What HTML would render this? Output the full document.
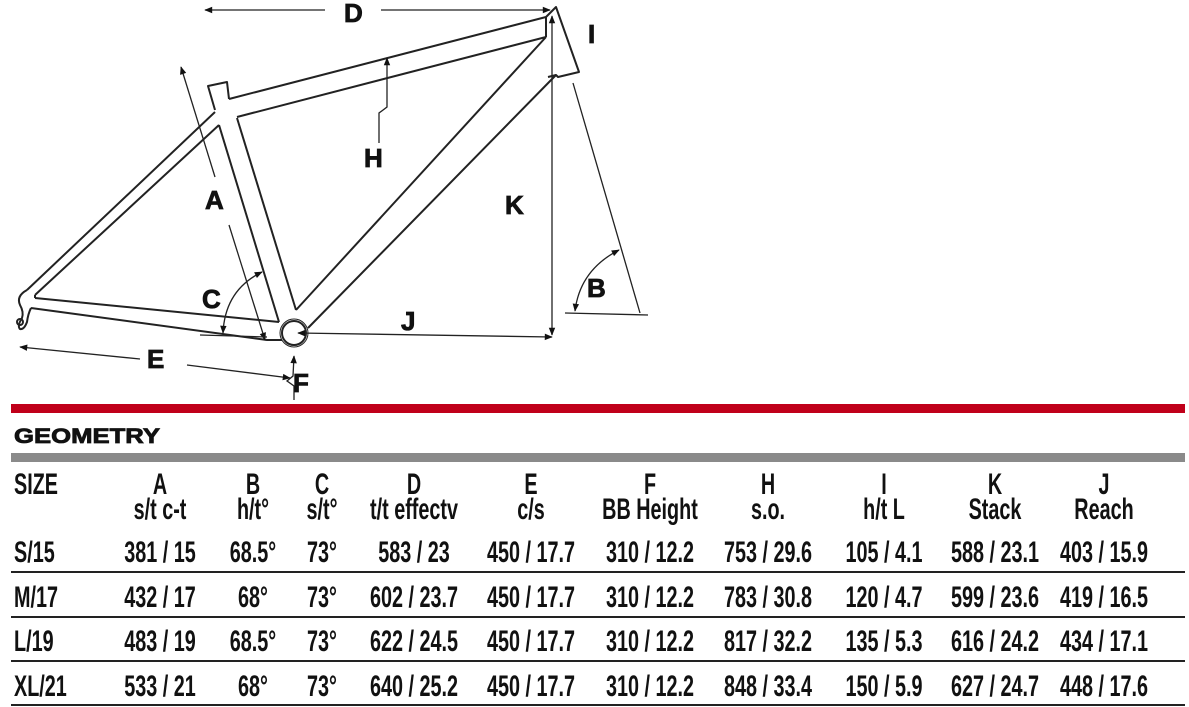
<!DOCTYPE html>
<html><head><meta charset="utf-8"><style>
html,body{margin:0;padding:0;background:#fff;}
svg{display:block;}
.lbl{font-family:"Liberation Sans",sans-serif;font-weight:bold;font-size:26px;fill:#111;stroke:#111;stroke-width:0.8;}
.t{font-family:"Liberation Sans Narrow","Liberation Sans",sans-serif;font-weight:bold;font-size:30px;fill:#111;}
</style></head><body>
<svg width="1189" height="707" viewBox="0 0 1189 707" xmlns="http://www.w3.org/2000/svg">
<defs>
<marker id="ar" viewBox="0 0 10 10" refX="9" refY="5" markerWidth="11" markerHeight="8" orient="auto-start-reverse" markerUnits="userSpaceOnUse"><path d="M0,1 L10,5 L0,9 Z" fill="#111"/></marker>
</defs>
<g fill="none" stroke="#222" stroke-width="2" stroke-linejoin="round">
<path d="M229,99 L546,17"/>
<path d="M237,117 L546,37"/>
<path d="M546,17 L556,7 L579,72 L558,77 L556,75 L548,77"/>
<path d="M546,17 L546,37"/>
<path d="M546,37 L296,310"/>
<path d="M556,75 L308,328"/>
<path d="M215,110 L208,86 L227,82 L229,99"/>
<path d="M219,125 L279,322"/>
<path d="M237,118 L296,310"/>
<path d="M215,112 L27,290"/>
<path d="M219,125 L35,295"/>
<path d="M35,298 L279,322"/>
<path d="M31,308 L267,340 L282,340"/>
<path d="M27,290 Q16,296 20,305 Q24,312 22,318 Q17,326 20,329 Q24,330 27,322 Q28,314 31,308"/>
<path d="M35,295 L35,298"/>
<circle cx="20" cy="322" r="3"/>
<circle cx="294" cy="333" r="12"/>
<circle cx="294" cy="333" r="14" stroke-width="1"/>
</g>
<g fill="none" stroke="#222" stroke-width="1.3">
<path d="M325,10 L205,10" marker-end="url(#ar)"/>
<path d="M381,10 L550,10" marker-end="url(#ar)"/>
<path d="M215,177 L181,67" marker-end="url(#ar)"/>
<path d="M229,225 L265,340" marker-end="url(#ar)"/>
<path d="M379,143 L379,113 L387,107 L387,58" marker-end="url(#ar)"/>
<path d="M552,16 L552,335" marker-start="url(#ar)" marker-end="url(#ar)"/>
<path d="M298,333 L552,337" marker-start="url(#ar)" marker-end="url(#ar)"/>
<path d="M573,83 L640,313"/>
<path d="M565,313 L648,315"/>
<path d="M619,250 Q580,270 575,311" marker-start="url(#ar)" marker-end="url(#ar)"/>
<path d="M200,335 L267,337"/>
<path d="M262,272 Q225,290 223,333" marker-start="url(#ar)" marker-end="url(#ar)"/>
<path d="M140,359 L20,347" marker-end="url(#ar)"/>
<path d="M187,365 L290,378" marker-end="url(#ar)"/>
<path d="M294,400 L294,386 L287,381 L293,376 L294,356" marker-end="url(#ar)"/>
</g>
<g class="lbl">
<text x="344" y="22">D</text>
<text x="588" y="43">I</text>
<text x="364" y="167">H</text>
<text x="205" y="209">A</text>
<text x="505" y="214">K</text>
<text x="587" y="297">B</text>
<text x="202" y="308">C</text>
<text x="401" y="330">J</text>
<text x="147" y="368">E</text>
<text x="293" y="392">F</text>
</g>
<rect x="11" y="404" width="1174" height="9" fill="#c0001a"/>
<text x="14" y="443" font-family="Liberation Sans,sans-serif" font-weight="bold" font-size="21" stroke="#111" stroke-width="0.8" textLength="146" lengthAdjust="spacingAndGlyphs" fill="#111">GEOMETRY</text>
<rect x="11" y="453" width="1174" height="9" fill="#8a8a8a"/>
<g fill="none" stroke="#222" stroke-width="2">
<path d="M11,572 H1185 M11,617 H1185 M11,661 H1185 M11,705 H1185"/>
</g>
<g class="t" text-anchor="start">
<text transform="translate(14,494) scale(0.66,1)">SIZE</text>
<text transform="translate(14,562) scale(0.66,1)">S/15</text>
<text transform="translate(14,607) scale(0.66,1)">M/17</text>
<text transform="translate(14,651) scale(0.66,1)">L/19</text>
<text transform="translate(14,696) scale(0.66,1)">XL/21</text>
</g>
<g class="t" text-anchor="middle">
<text transform="translate(160,494) scale(0.66,1)">A</text>
<text transform="translate(160,519) scale(0.66,1)">s/t c-t</text>
<text transform="translate(253,494) scale(0.66,1)">B</text>
<text transform="translate(253,519) scale(0.66,1)">h/t°</text>
<text transform="translate(322,494) scale(0.66,1)">C</text>
<text transform="translate(322,519) scale(0.66,1)">s/t°</text>
<text transform="translate(414,494) scale(0.66,1)">D</text>
<text transform="translate(414,519) scale(0.66,1)">t/t effectv</text>
<text transform="translate(531,494) scale(0.66,1)">E</text>
<text transform="translate(531,519) scale(0.66,1)">c/s</text>
<text transform="translate(650,494) scale(0.66,1)">F</text>
<text transform="translate(650,519) scale(0.66,1)">BB Height</text>
<text transform="translate(768,494) scale(0.66,1)">H</text>
<text transform="translate(768,519) scale(0.66,1)">s.o.</text>
<text transform="translate(884,494) scale(0.66,1)">I</text>
<text transform="translate(884,519) scale(0.66,1)">h/t L</text>
<text transform="translate(995,494) scale(0.66,1)">K</text>
<text transform="translate(995,519) scale(0.66,1)">Stack</text>
<text transform="translate(1104,494) scale(0.66,1)">J</text>
<text transform="translate(1104,519) scale(0.66,1)">Reach</text>

<text transform="translate(160,562) scale(0.66,1)">381 / 15</text>
<text transform="translate(253,562) scale(0.66,1)">68.5°</text>
<text transform="translate(322,562) scale(0.66,1)">73°</text>
<text transform="translate(414,562) scale(0.66,1)">583 / 23</text>
<text transform="translate(531,562) scale(0.66,1)">450 / 17.7</text>
<text transform="translate(650,562) scale(0.66,1)">310 / 12.2</text>
<text transform="translate(768,562) scale(0.66,1)">753 / 29.6</text>
<text transform="translate(884,562) scale(0.66,1)">105 / 4.1</text>
<text transform="translate(995,562) scale(0.66,1)">588 / 23.1</text>
<text transform="translate(1104,562) scale(0.66,1)">403 / 15.9</text>

<text transform="translate(160,607) scale(0.66,1)">432 / 17</text>
<text transform="translate(253,607) scale(0.66,1)">68°</text>
<text transform="translate(322,607) scale(0.66,1)">73°</text>
<text transform="translate(414,607) scale(0.66,1)">602 / 23.7</text>
<text transform="translate(531,607) scale(0.66,1)">450 / 17.7</text>
<text transform="translate(650,607) scale(0.66,1)">310 / 12.2</text>
<text transform="translate(768,607) scale(0.66,1)">783 / 30.8</text>
<text transform="translate(884,607) scale(0.66,1)">120 / 4.7</text>
<text transform="translate(995,607) scale(0.66,1)">599 / 23.6</text>
<text transform="translate(1104,607) scale(0.66,1)">419 / 16.5</text>

<text transform="translate(160,651) scale(0.66,1)">483 / 19</text>
<text transform="translate(253,651) scale(0.66,1)">68.5°</text>
<text transform="translate(322,651) scale(0.66,1)">73°</text>
<text transform="translate(414,651) scale(0.66,1)">622 / 24.5</text>
<text transform="translate(531,651) scale(0.66,1)">450 / 17.7</text>
<text transform="translate(650,651) scale(0.66,1)">310 / 12.2</text>
<text transform="translate(768,651) scale(0.66,1)">817 / 32.2</text>
<text transform="translate(884,651) scale(0.66,1)">135 / 5.3</text>
<text transform="translate(995,651) scale(0.66,1)">616 / 24.2</text>
<text transform="translate(1104,651) scale(0.66,1)">434 / 17.1</text>

<text transform="translate(160,696) scale(0.66,1)">533 / 21</text>
<text transform="translate(253,696) scale(0.66,1)">68°</text>
<text transform="translate(322,696) scale(0.66,1)">73°</text>
<text transform="translate(414,696) scale(0.66,1)">640 / 25.2</text>
<text transform="translate(531,696) scale(0.66,1)">450 / 17.7</text>
<text transform="translate(650,696) scale(0.66,1)">310 / 12.2</text>
<text transform="translate(768,696) scale(0.66,1)">848 / 33.4</text>
<text transform="translate(884,696) scale(0.66,1)">150 / 5.9</text>
<text transform="translate(995,696) scale(0.66,1)">627 / 24.7</text>
<text transform="translate(1104,696) scale(0.66,1)">448 / 17.6</text>
</g>
</svg>
</body></html>
